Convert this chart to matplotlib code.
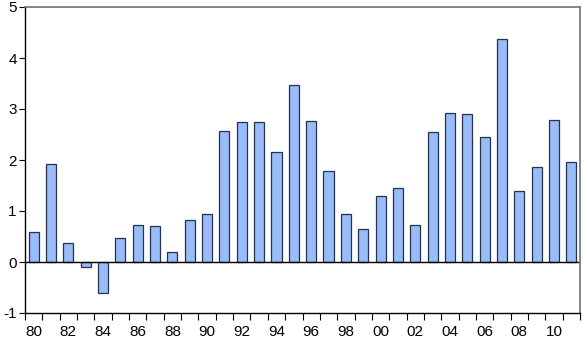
import numpy as np
import matplotlib.pyplot as plt

plt.rcParams['font.family'] = ['Liberation Sans', 'DejaVu Sans']
plt.rcParams['axes.unicode_minus'] = False

years = list(range(1980, 2012))
values = [0.59, 1.92, 0.38, -0.10, -0.60, 0.48, 0.72, 0.70, 0.19, 0.83,
          0.95, 2.56, 2.74, 2.74, 2.16, 3.48, 2.77, 1.78, 0.95, 0.65,
          1.30, 1.45, 0.73, 2.54, 2.93, 2.90, 2.45, 4.37, 1.39, 1.86,
          2.78, 1.97]
tick_labels = ["%02d" % (y % 100) for y in years[::2]]

fig = plt.figure(figsize=(5.83, 3.6), dpi=100)
ax = fig.add_axes([25 / 583, 1 - 313 / 360, 555 / 583, 306 / 360])

x = np.arange(len(years))
ax.bar(x, values, width=0.58, color="#99bbf7", edgecolor="#25324f", linewidth=0.9)
ax.axhline(0, color="black", linewidth=1.0)

ax.set_xlim(-0.5, len(years) - 0.5)
ax.set_ylim(-1, 5)
ax.set_yticks([-1, 0, 1, 2, 3, 4, 5])

ax.set_xticks(x[::2])
ax.set_xticklabels(tick_labels)
ax.set_xticks(np.arange(-0.5, len(years), 1.0), minor=True)
ax.tick_params(axis="x", which="major", length=0, pad=9, labelsize=11)
ax.tick_params(axis="x", which="minor", length=5, width=0.8, direction="out")
ax.tick_params(axis="y", length=4, width=0.8, direction="out", labelsize=11, pad=2)

for s in ["top", "right"]:
    ax.spines[s].set_color("#707070")
    ax.spines[s].set_linewidth(1.2)
for s in ["left", "bottom"]:
    ax.spines[s].set_color("black")
    ax.spines[s].set_linewidth(1.0)

fig.savefig("out.png", dpi=100)
